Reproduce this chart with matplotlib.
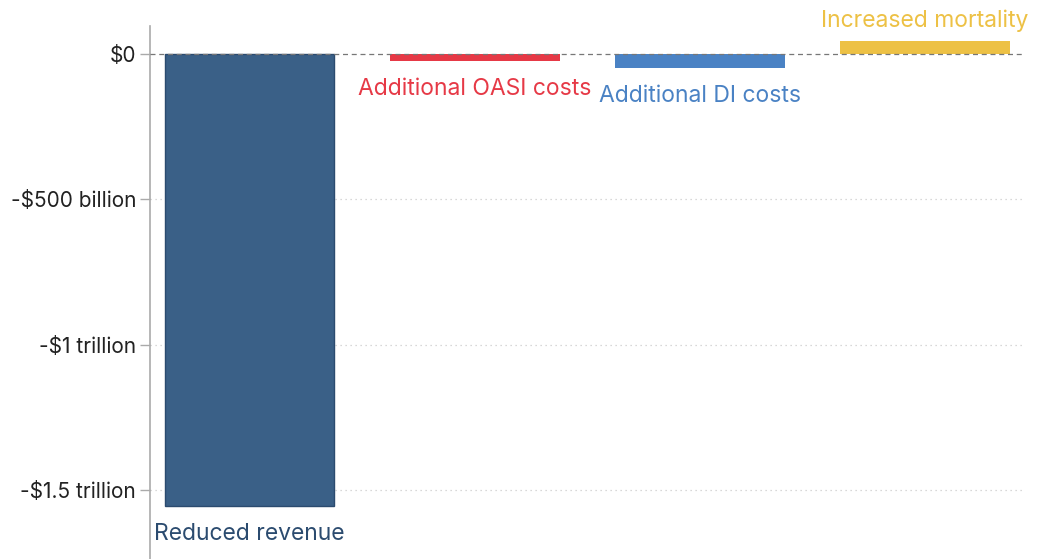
import matplotlib.pyplot as plt
from matplotlib.ticker import FixedLocator

# values in billions of dollars
categories = ["Reduced revenue", "Additional OASI costs", "Additional DI costs", "Increased mortality"]
values = [-1555, -24, -49, 45]
colors = ["#3a6087", "#e63946", "#4a82c4", "#edc145"]
label_colors = ["#2b4b6f", "#e63946", "#4a82c4", "#edc145"]
tick_values = [0, -500, -1000, -1500]
tick_labels = ["$0", "-$500 billion", "-$1 trillion", "-$1.5 trillion"]

plt.rcParams['font.family'] = ['Inter', 'DejaVu Sans']

fig = plt.figure(figsize=(10.42, 5.59), dpi=100)
ax = fig.add_axes([0.144, 0.0, 0.840, 0.9535])

x = list(range(len(categories)))
bars = ax.bar(x, values, width=0.755, color=colors, zorder=2)
bars[0].set_edgecolor("#2b4b6f")
bars[0].set_linewidth(1)

ax.set_xlim(-0.442, 3.447)
ax.set_ylim(-1737, 96)

# grid and zero line
for v in tick_values[1:]:
    ax.axhline(v, color="#cccccc", lw=0.9, ls=(0, (1, 3)), zorder=1)
ax.axhline(0, color="#777777", lw=0.9, ls=(0, (4, 3)), zorder=3)

ax.yaxis.set_major_locator(FixedLocator(tick_values))
ax.set_yticklabels(tick_labels)
ax.tick_params(axis='y', length=7, width=1, color="#aaaaaa", labelsize=15,
               labelcolor="#222222", pad=3)
ax.set_xticks([])

for s in ["top", "right", "bottom"]:
    ax.spines[s].set_visible(False)
ax.spines["left"].set_color("#aaaaaa")
ax.spines["left"].set_linewidth(1.2)

for xi, v, name, c in zip(x, values, categories, label_colors):
    off = -28 if v < 0 else 20
    ax.annotate(name, (xi, v), xytext=(0, off), textcoords='offset pixels',
                ha='center', va='center', color=c, fontsize=16.5)

fig.savefig("out.png", dpi=100)
